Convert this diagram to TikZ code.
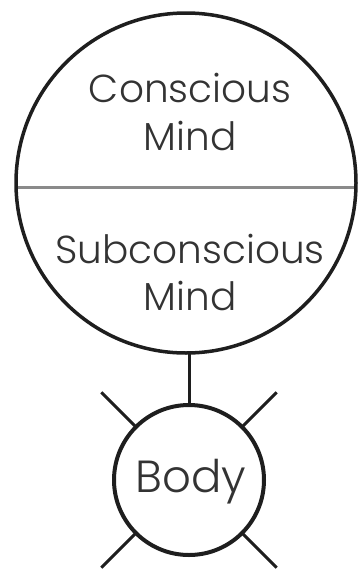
\documentclass[tikz,border=0pt]{standalone}
\usepackage{fontspec}
\setmainfont{Poppins}[UprightFont=* Light]
\definecolor{inkc}{HTML}{1E1E1E}
\definecolor{txtc}{HTML}{333333}
\definecolor{divc}{HTML}{8A8A8A}
\tikzset{
  ring/.style={circle, draw=inkc, inner sep=0pt, outer sep=0pt},
  lbl/.style={anchor=base, text=txtc, inner sep=0pt, font=\fontsize{39}{48}\selectfont},
  link/.style={draw=inkc, line width=3pt},
  divider/.style={draw=divc, line width=3pt}
}
\begin{document}
\begin{tikzpicture}[x=1pt,y=-1pt]
\useasboundingbox (0,0) rectangle (359,573);
% big circle
\node[ring, line width=3.5pt, minimum size=340pt] (big) at (186,183) {};
\draw[divider, shorten <=1.8pt, shorten >=1.8pt] ([yshift=-4pt]big.west) -- ([yshift=-4pt]big.east);
% texts
\node[lbl] (c1) at (190,102) {Conscious};
\node[lbl] (c2) at (190,150) {Mind};
\node[lbl] (s1) at (190,263) {Subconscious};
\node[lbl] (s2) at (190,310) {Mind};
% body
\node[ring, line width=4pt, minimum size=150pt] (body) at (189,480) {};
\node[lbl, font=\fontsize{45}{54}\selectfont] (bt) at (191,492) {Body};
% connectors
\draw[link] (body.north) -- (body.north |- big.south);
\draw[link] (body.45) -- ++(45:49pt);
\draw[link] (body.135) -- ++(135:49pt);
\draw[link] (body.225) -- ++(225:49pt);
\draw[link] (body.315) -- ++(315:49pt);
\end{tikzpicture}
\end{document}
